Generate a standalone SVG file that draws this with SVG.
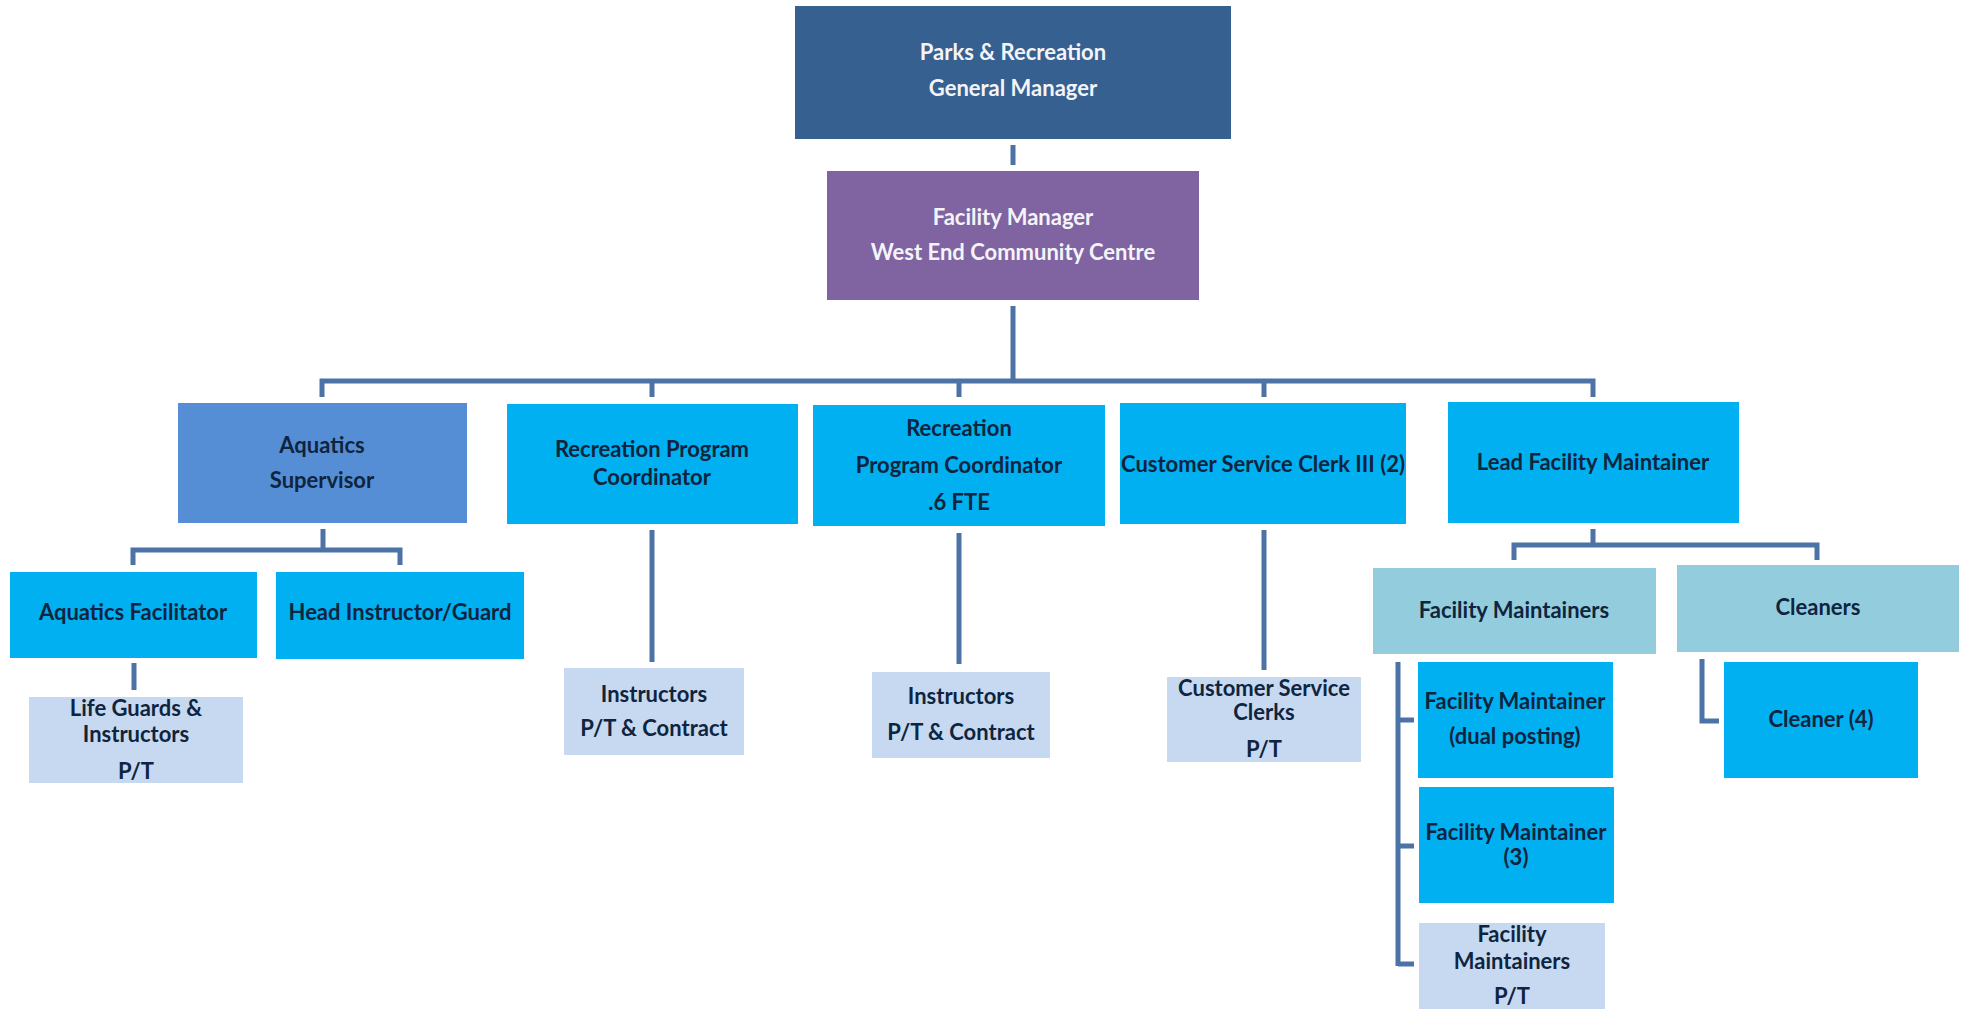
<svg xmlns="http://www.w3.org/2000/svg" width="1969" height="1009" viewBox="0 0 1969 1009">
<style>
text{font-family:Lato,"Liberation Sans","DejaVu Sans",sans-serif;font-weight:bold;font-size:22px;text-anchor:middle;fill:#0F243E}
.w{fill:#F4F4F8}
.gm{fill:#36608F}
.pu{fill:#8064A2}
.mb{fill:#558ED5}
.cy{fill:#00B0F0}
.lb{fill:#C6D9F1}
.tl{fill:#93CDDD}
.c{fill:none;stroke:#4C72A6;stroke-width:5}
</style>
<rect width="1969" height="1009" fill="#FFFFFF"/>
<g id="connectors">
<path class="c" d="M1013 145V165"/>
<path class="c" d="M1013 306V381M322 397V381H1593V397M652 381V397M959 381V397M1264 381V397"/>
<path class="c" d="M323 529V550M133 565V550H400V565"/>
<path class="c" d="M134 663V690"/>
<path class="c" d="M652 530V662"/>
<path class="c" d="M959 533V664"/>
<path class="c" d="M1264 530V670"/>
<path class="c" d="M1593 529V545M1514 560V545H1817V560"/>
<path class="c" d="M1398 662V966M1398 720H1414M1398 846H1414M1398 964H1414"/>
<path class="c" d="M1702 659V721H1719"/>
</g>
<g id="general-manager"><rect class="gm" x="795" y="6" width="436" height="133"/><text class="w" x="1013" y="60">Parks &amp; Recreation</text><text class="w" x="1013" y="96">General Manager</text></g>
<g id="facility-manager"><rect class="pu" x="827" y="171" width="372" height="129"/><text class="w" x="1013" y="225">Facility Manager</text><text class="w" x="1013" y="260">West End Community Centre</text></g>
<g id="aquatics-supervisor"><rect class="mb" x="178" y="403" width="289" height="120"/><text x="322" y="453">Aquatics</text><text x="322" y="488">Supervisor</text></g>
<g id="rec-coordinator"><rect class="cy" x="507" y="404" width="291" height="120"/><text x="652" y="457">Recreation Program</text><text x="652" y="485">Coordinator</text></g>
<g id="rec-coordinator-06"><rect class="cy" x="813" y="405" width="292" height="121"/><text x="959" y="436">Recreation</text><text x="959" y="473">Program Coordinator</text><text x="959" y="510">.6 FTE</text></g>
<g id="csc-iii"><rect class="cy" x="1120" y="403" width="286" height="121"/><text x="1263" y="472">Customer Service Clerk III (2)</text></g>
<g id="lead-maintainer"><rect class="cy" x="1448" y="402" width="291" height="121"/><text x="1593" y="470">Lead Facility Maintainer</text></g>
<g id="aquatics-facilitator"><rect class="cy" x="10" y="572" width="247" height="86"/><text x="133" y="620">Aquatics Facilitator</text></g>
<g id="head-instructor"><rect class="cy" x="276" y="572" width="248" height="87"/><text x="400" y="620">Head Instructor/Guard</text></g>
<g id="life-guards"><rect class="lb" x="29" y="697" width="214" height="86"/><text x="136" y="716">Life Guards &amp;</text><text x="136" y="742">Instructors</text><text x="136" y="779">P/T</text></g>
<g id="instructors-1"><rect class="lb" x="564" y="668" width="180" height="87"/><text x="654" y="702">Instructors</text><text x="654" y="736">P/T &amp; Contract</text></g>
<g id="instructors-2"><rect class="lb" x="872" y="672" width="178" height="86"/><text x="961" y="704">Instructors</text><text x="961" y="740">P/T &amp; Contract</text></g>
<g id="csc-clerks"><rect class="lb" x="1167" y="677" width="194" height="85"/><text x="1264" y="696">Customer Service</text><text x="1264" y="720">Clerks</text><text x="1264" y="757">P/T</text></g>
<g id="facility-maintainers"><rect class="tl" x="1373" y="568" width="283" height="86"/><text x="1514" y="618">Facility Maintainers</text></g>
<g id="cleaners"><rect class="tl" x="1677" y="565" width="282" height="87"/><text x="1818" y="615">Cleaners</text></g>
<g id="fm-dual"><rect class="cy" x="1418" y="662" width="195" height="116"/><text x="1515" y="709">Facility Maintainer</text><text x="1515" y="744">(dual posting)</text></g>
<g id="fm-3"><rect class="cy" x="1419" y="787" width="195" height="116"/><text x="1516" y="840">Facility Maintainer</text><text x="1516" y="865">(3)</text></g>
<g id="fm-pt"><rect class="lb" x="1419" y="923" width="186" height="86"/><text x="1512" y="942">Facility</text><text x="1512" y="969">Maintainers</text><text x="1512" y="1004">P/T</text></g>
<g id="cleaner-4"><rect class="cy" x="1724" y="662" width="194" height="116"/><text x="1821" y="727">Cleaner (4)</text></g>
</svg>
